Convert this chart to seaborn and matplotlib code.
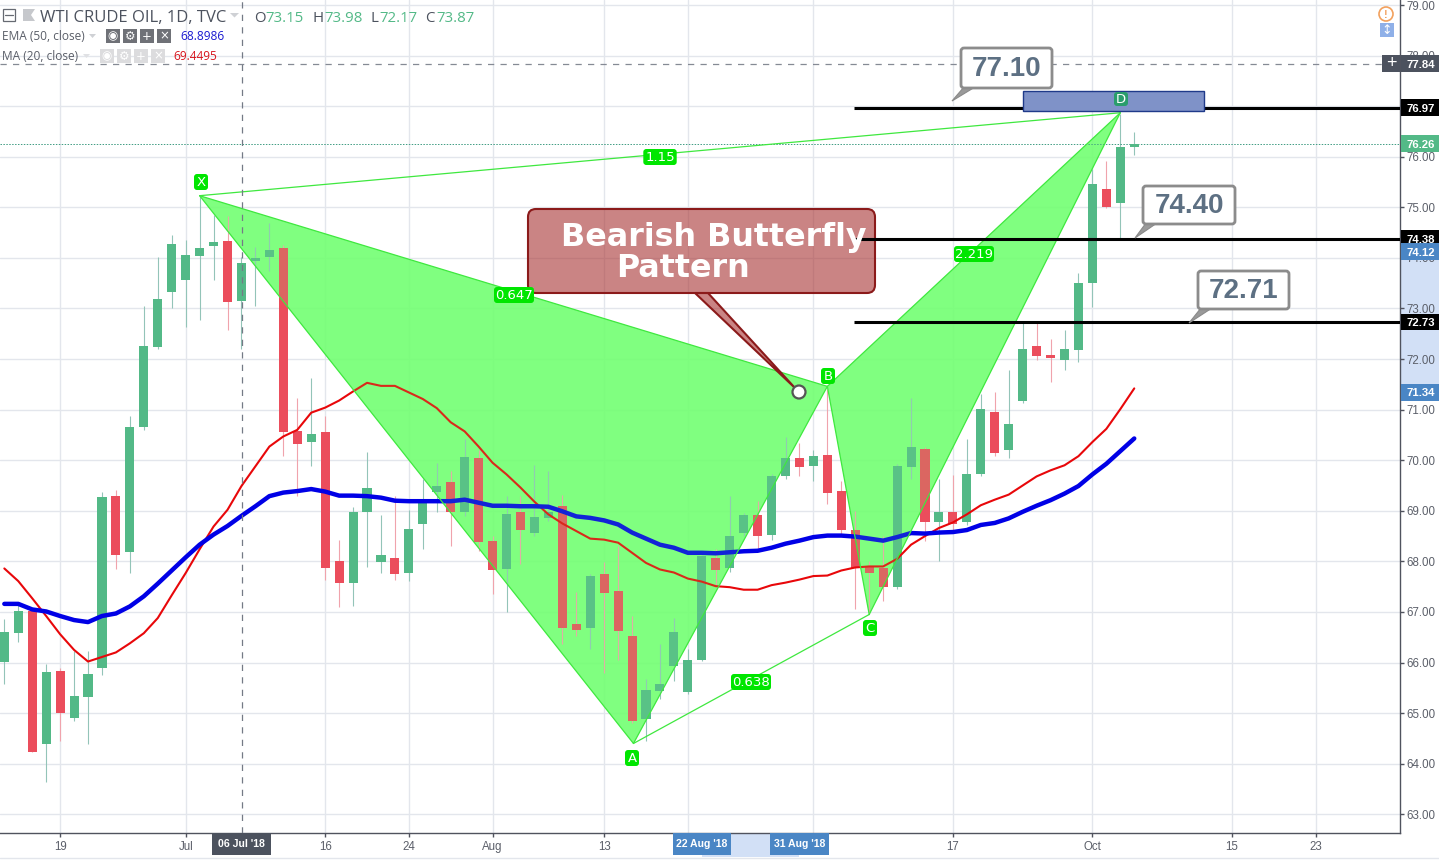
import matplotlib
matplotlib.use('Agg')
import matplotlib.pyplot as plt
from matplotlib.patches import FancyBboxPatch, Polygon, Circle, Rectangle
from matplotlib.transforms import Affine2D
from matplotlib.colors import to_rgba
import numpy as np
import seaborn as sns

# daily candles
opens = [66.01, 66.58, 67.01, 64.39, 65.84, 64.90, 65.32, 65.89, 69.30, 68.18, 70.65, 72.23, 73.32, 73.56, 74.03, 74.23, 74.34, 73.14, 73.93, 74.01,
         74.20, 70.57, 70.36, 70.55, 68.00, 67.57, 68.97, 67.98, 68.06, 67.77, 68.74, 69.37, 69.56, 68.97, 70.05, 68.41, 67.85, 68.97, 68.56, 68.86,
         69.09, 66.77, 66.69, 67.76, 67.41, 66.52, 64.88, 65.43, 65.93, 65.41, 66.06, 68.06, 67.86, 68.56, 68.91, 68.52, 69.68, 70.05, 69.88, 70.11,
         69.40, 68.63, 67.90, 67.87, 67.49, 69.86, 70.23, 68.77, 68.97, 68.77, 69.72, 70.96, 70.20, 71.17, 72.25, 72.09, 71.98, 72.17, 73.50, 75.37,
         75.08, 76.19]
highs = [66.87, 67.15, 67.05, 65.98, 65.90, 66.23, 66.22, 69.37, 69.42, 70.88, 73.04, 74.01, 74.46, 74.35, 75.22, 74.84, 74.82, 74.01, 74.22, 74.70,
         74.25, 71.24, 71.63, 70.87, 68.43, 69.07, 70.17, 68.91, 69.29, 69.02, 69.62, 69.95, 69.78, 70.41, 70.21, 68.50, 69.29, 69.30, 69.91, 69.78,
         69.32, 67.39, 67.75, 67.98, 68.30, 66.92, 65.67, 66.36, 66.89, 66.26, 68.15, 68.25, 69.29, 68.95, 69.19, 69.72, 70.45, 70.35, 70.21, 71.40,
         69.59, 68.99, 68.00, 68.50, 69.92, 71.24, 70.26, 69.62, 69.70, 70.41, 71.30, 71.34, 71.79, 72.72, 72.75, 72.39, 72.58, 73.71, 75.75, 75.91,
         76.85, 76.48]
lows = [65.57, 66.40, 64.23, 63.64, 64.44, 64.84, 64.39, 65.76, 67.84, 67.78, 70.60, 72.20, 73.00, 72.63, 72.78, 73.56, 72.58, 72.19, 73.04, 73.74,
        70.08, 69.29, 69.88, 67.64, 67.09, 67.11, 67.88, 67.78, 67.64, 67.61, 68.24, 68.97, 68.30, 68.90, 68.20, 67.35, 66.99, 67.94, 68.50, 68.80,
        66.36, 66.52, 66.26, 65.80, 66.06, 64.80, 64.44, 65.27, 65.63, 65.37, 66.03, 67.54, 67.80, 68.50, 68.27, 68.43, 69.62, 69.68, 69.59, 69.13,
        68.55, 67.05, 66.95, 67.21, 67.45, 69.62, 68.40, 68.00, 68.60, 68.72, 69.68, 70.08, 70.05, 71.14, 71.99, 71.54, 71.78, 71.94, 73.02, 74.98,
        74.38, 76.04]
closes = [66.60, 67.01, 64.23, 65.82, 65.01, 65.33, 65.78, 69.28, 68.12, 70.65, 72.25, 73.19, 74.28, 74.05, 74.20, 74.32, 73.12, 73.89, 73.99, 74.16,
          70.55, 70.32, 70.51, 67.87, 67.57, 68.97, 69.46, 68.12, 67.75, 68.65, 69.24, 69.50, 68.97, 70.07, 68.38, 67.83, 68.93, 68.62, 68.87, 68.97,
          66.68, 66.65, 67.72, 67.37, 66.62, 64.84, 65.45, 65.57, 66.61, 66.06, 68.10, 67.82, 68.51, 68.91, 68.50, 69.68, 70.05, 69.86, 70.09, 69.35,
          68.62, 67.87, 67.77, 67.49, 69.89, 70.27, 68.77, 68.97, 68.74, 69.72, 71.02, 70.14, 70.71, 72.20, 72.06, 72.02, 72.19, 73.51, 75.47, 75.00,
          76.20, 76.26]

ema50 = [67.16, 67.16, 67.05, 67.01, 66.92, 66.84, 66.80, 66.92, 66.97, 67.11, 67.31, 67.56, 67.82, 68.08, 68.33, 68.53, 68.70, 68.90, 69.09, 69.29,
         69.36, 69.39, 69.43, 69.38, 69.30, 69.30, 69.29, 69.26, 69.20, 69.19, 69.19, 69.19, 69.19, 69.22, 69.16, 69.10, 69.10, 69.09, 69.09, 69.08,
         68.99, 68.89, 68.86, 68.81, 68.73, 68.57, 68.45, 68.33, 68.27, 68.17, 68.17, 68.16, 68.18, 68.20, 68.21, 68.27, 68.35, 68.41, 68.48, 68.51,
         68.51, 68.49, 68.45, 68.41, 68.48, 68.56, 68.55, 68.57, 68.58, 68.62, 68.72, 68.76, 68.85, 68.98, 69.10, 69.21, 69.34, 69.49, 69.72, 69.93,
         70.18, 70.43]
ma20 = [67.86, 67.61, 67.27, 66.92, 66.56, 66.25, 66.02, 66.11, 66.20, 66.38, 66.58, 66.88, 67.33, 67.77, 68.24, 68.69, 69.02, 69.49, 69.88, 70.27,
        70.47, 70.60, 70.94, 71.04, 71.18, 71.36, 71.53, 71.47, 71.47, 71.34, 71.21, 71.03, 70.75, 70.57, 70.27, 69.95, 69.72, 69.46, 69.18, 68.93,
        68.75, 68.60, 68.45, 68.43, 68.37, 68.17, 67.97, 67.84, 67.78, 67.66, 67.60, 67.51, 67.49, 67.44, 67.44, 67.53, 67.58, 67.64, 67.71, 67.72,
        67.82, 67.88, 67.90, 67.90, 68.05, 68.33, 68.50, 68.66, 68.77, 68.93, 69.11, 69.22, 69.32, 69.50, 69.68, 69.80, 69.90, 70.08, 70.36, 70.62,
        71.01, 71.42]

# butterfly pattern points X A B C D
pattern_names = ['X', 'A', 'B', 'C', 'D']
pattern_x = [14, 45.1, 59, 62, 80]
pattern_y = [75.23, 64.40, 71.46, 66.95, 76.87]

tick_pos = [4, 13, 23, 29, 35, 43, 49, 58, 68, 78, 88, 94]
tick_labels = ['19', 'Jul', '16', '24', 'Aug', '13', '', '', '17', 'Oct', '15', '23']
price_ticks = list(range(63, 80))

level_prices = [76.97, 74.38, 72.73]
level_start = 60.9
crosshair_x = 17.05
crosshair_y = 77.84
last_price = 76.26
range_prices = [71.34, 74.12]
range_dates = [50, 57]
zone_x = [73, 86]
zone_y = [76.91, 77.29]

tag_prices = [77.84, 76.97, 76.26, 74.38, 74.12, 72.73, 71.34]
tag_colors = ['#4c525e', '#000000', '#53b987', '#000000', '#4a86c5', '#000000', '#4a86c5']
date_tags = [(17, "06 Jul '18", '#4c525e'), (50, "22 Aug '18", '#4a86c5'), (57, "31 Aug '18", '#4a86c5')]

GREEN = '#53b987'
RED = '#eb4d5c'
W, H = 1439, 860

sns.set_theme(style='whitegrid', rc={'grid.color': '#e3e6ec', 'grid.linewidth': 1.0, 'axes.edgecolor': '#50535e'})
plt.rcParams['font.family'] = ['Liberation Sans', 'DejaVu Sans']

fig = plt.figure(figsize=(W / 100, H / 100), dpi=100)
ax = fig.add_axes([0, 1 - 833 / H, 1400 / W, 833 / H])
ax.set_xlim(-0.31, 100.05)
ax.set_ylim(62.63, 79.099)
ax.set_axisbelow(True)

# pixel space for the chart furniture, y going down like the screenshot
px = Affine2D().scale(1, -1).translate(0, H)

x = np.arange(len(opens))
colors = [GREEN if c >= o else RED for o, c in zip(opens, closes)]
wick_colors = ['#93c4b8' if c >= o else '#f0a3ac' for o, c in zip(opens, closes)]

# green triangles, the grid just shows through
ax.fill([pattern_x[0], pattern_x[1], pattern_x[2]], [pattern_y[0], pattern_y[1], pattern_y[2]], color='#72ff72', alpha=0.9, lw=0, zorder=1)
ax.fill([pattern_x[2], pattern_x[3], pattern_x[4]], [pattern_y[2], pattern_y[3], pattern_y[4]], color='#72ff72', alpha=0.9, lw=0, zorder=1)

ax.vlines(x, lows, highs, colors=wick_colors, lw=0.8, zorder=2)
ax.bar(x, np.abs(np.array(closes) - np.array(opens)), bottom=np.minimum(opens, closes), width=0.65, color=colors, lw=0, zorder=3)

sns.lineplot(x=x, y=ma20, ax=ax, color='#e8070a', lw=1.5, zorder=4)
sns.lineplot(x=x, y=ema50, ax=ax, color='#0000e6', lw=3.2, zorder=4)

# slight tint on top of what sits inside the pattern
ax.fill([pattern_x[0], pattern_x[1], pattern_x[2]], [pattern_y[0], pattern_y[1], pattern_y[2]], color='#80ff80', alpha=0.14, lw=0, zorder=5)
ax.fill([pattern_x[2], pattern_x[3], pattern_x[4]], [pattern_y[2], pattern_y[3], pattern_y[4]], color='#80ff80', alpha=0.14, lw=0, zorder=5)

# pattern legs
for a, b in [(0, 1), (1, 2), (0, 2), (2, 3), (3, 4), (2, 4), (0, 4), (1, 3)]:
    ax.plot([pattern_x[a], pattern_x[b]], [pattern_y[a], pattern_y[b]], color='#3fe83f', lw=0.9, zorder=5)

# crosshair and last price
ax.axvline(crosshair_x, color='#747a86', lw=0.9, ls=(0, (5, 5)), zorder=6)
ax.axhline(crosshair_y, color='#858a94', lw=0.9, ls=(0, (5, 5)), zorder=6)
ax.axhline(last_price, color='#3f9c82', lw=0.7, ls=(0, (1.5, 1.5)), zorder=2)

# bearish callout, under the level lines
fill = to_rgba('#a83232', 0.6)
ax.add_patch(Polygon([(695, 293), (708, 293), (795, 388)], closed=True, fc=fill, ec='#8b1a1a', lw=1.5, transform=px, zorder=6))
ax.add_patch(FancyBboxPatch((528, 209), 347, 84, boxstyle='round,pad=0,rounding_size=8', fc=fill, ec='#8b1a1a', lw=1.5, transform=px, zorder=6))
ax.add_patch(Circle((799, 392), 6.5, fc='white', ec='#555555', lw=1.6, transform=px, zorder=9))

for p in level_prices:
    ax.plot([level_start, 100.05], [p, p], color='black', lw=2.2, solid_capstyle='butt', zorder=7)

ax.text(561, 246, 'Bearish Butterfly', transform=px, family='DejaVu Sans', weight='bold', fontsize=22.9, color='white', zorder=10)
ax.text(616, 277, 'Pattern', transform=px, family='DejaVu Sans', weight='bold', fontsize=22.9, color='white', zorder=10)

# potential reversal zone
ax.add_patch(Rectangle((zone_x[0], zone_y[0]), zone_x[1] - zone_x[0], zone_y[1] - zone_y[0], fc='#7f92c8', ec='#1f3a8a', lw=1, zorder=8))


def tag(cx, cy, s, color='#00e600', fs=9.5, w=None, h=16, tc='white'):
    w = w or (7 + len(s) * 6.6)
    ax.add_patch(FancyBboxPatch((cx - w / 2, cy - h / 2), w, h, boxstyle='round,pad=0,rounding_size=3', fc=color, ec='none', transform=px, zorder=9, clip_on=False))
    ax.text(cx, cy + 0.5, s, transform=px, ha='center', va='center', fontsize=fs, color=tc, family='DejaVu Sans', zorder=10)


tag(201, 182, 'X', w=14)
tag(632, 758, 'A', w=14)
tag(828, 376, 'B', w=14)
tag(870, 628, 'C', w=14)
tag(1121, 99, 'D', color='#2a9d6c', w=14, h=14)
tag(660, 157, '1.15')
tag(514, 295, '0.647')
tag(751, 682, '0.638')
tag(974, 254, '2.219')


def note(x0, y0, w, h, s, tail):
    ax.add_patch(Polygon([(x0 + 3, y0 + h - 1), (x0 + 14, y0 + h - 1), tail], closed=True, fc='#9a9a9a', ec='#8a8a8a', lw=0.8, transform=px, zorder=9))
    ax.add_patch(FancyBboxPatch((x0, y0), w, h, boxstyle='round,pad=0,rounding_size=3', fc='white', ec='#8c8c8c', lw=2, transform=px, zorder=9))
    ax.text(x0 + w / 2, y0 + h / 2 + 1, s, transform=px, ha='center', va='center', weight='bold', fontsize=20, color='#5d7083', zorder=10)


note(961, 48, 91, 40, '77.10', (952, 101))
note(1143, 186, 92, 38, '74.40', (1135, 238))
note(1198, 271, 91, 38, '72.71', (1189, 323))

# axes, the 77 label sits fully behind the 76.97 tag so it stays blank
ax.set_xticks(tick_pos, tick_labels)
ax.set_yticks(price_ticks, ['' if p == 77 else f'{p:.2f}' for p in price_ticks])
ax.yaxis.tick_right()
ax.tick_params(axis='y', length=3, width=1, color='#50535e', labelcolor='#5b5f69', labelsize=8.3, pad=1.5, right=True)
ax.tick_params(axis='x', length=3, width=1, color='#50535e', labelcolor='#5b5f69', labelsize=8.3, pad=3, bottom=True)
for side in ['top', 'left']:
    ax.spines[side].set_visible(False)
for side in ['right', 'bottom']:
    ax.spines[side].set_visible(True)
    ax.spines[side].set_color('#50535e')
    ax.spines[side].set_linewidth(1)

# selected ranges on both axes
ytrans = ax.get_yaxis_transform()
xtrans = ax.get_xaxis_transform()
ax.add_patch(Rectangle((1.0007, range_prices[0]), 39 / 1400, range_prices[1] - range_prices[0], transform=ytrans, fc='#d2e0f6', ec='none', clip_on=False, zorder=0))
ax.add_patch(Rectangle((range_dates[0], -24 / 833), range_dates[1] - range_dates[0], 24 / 833, transform=xtrans, fc='#d2e0f6', ec='none', clip_on=False, zorder=0))

# price tags
for p, c in zip(tag_prices, tag_colors):
    ax.add_patch(Rectangle((1.0007, p - 0.165), 39 / 1400, 0.33, transform=ytrans, fc=c, ec='none', clip_on=False, zorder=11))
    ax.text(1.005, p, f'{p:.2f}', transform=ytrans, va='center_baseline', fontsize=8.2, weight='bold', color='white', clip_on=False, zorder=12)

# date tags
for d, s, c in date_tags:
    ax.add_patch(Rectangle((d - 2.1, -22 / 833), 4.2, 22 / 833, transform=xtrans, fc=c, ec='none', clip_on=False, zorder=11))
    ax.text(d, -11 / 833, s, transform=xtrans, ha='center', va='center', fontsize=7.6, weight='bold', color='white', clip_on=False, zorder=12)

# bottom rule
fig.add_artist(plt.Line2D([0, W], [858, 858], transform=px, color='#e3e6ec', lw=1))

# legend block, top left
ax.add_patch(Rectangle((2.5, 9), 12, 11.5, fc='white', ec='#666a72', lw=0.9, transform=px, zorder=12))
ax.plot([4.5, 12.5], [15, 15], color='#666a72', lw=0.9, transform=px, zorder=13)
ax.add_patch(Polygon([(23, 9), (35, 9), (31, 15), (35, 21), (23, 21)], closed=True, fc='#c6c8cc', ec='none', transform=px, zorder=12))
ax.text(40, 21.5, 'WTI CRUDE OIL, 1D, TVC', transform=px, fontsize=12, family='Open Sans', color='#4c525e', zorder=13)
ax.add_patch(Polygon([(230, 13), (239, 13), (234.5, 17.5)], closed=True, fc='#cfd1d5', ec='none', transform=px, zorder=12))
for lx, name, vx, val in [(254, 'O', 265, '73.15'), (312, 'H', 324, '73.98'), (370, 'L', 379, '72.17'), (425, 'C', 436, '73.87')]:
    ax.text(lx, 21.5, name, transform=px, fontsize=10.8, family='Open Sans', color='#4c525e', zorder=13)
    ax.text(vx, 21.5, val, transform=px, fontsize=10.8, family='Open Sans', color=GREEN, zorder=13)

ax.text(2, 40, 'EMA (50, close)', transform=px, fontsize=8.6, family='Open Sans', color='#5a5e68', zorder=13)
ax.add_patch(Polygon([(89, 34), (96, 34), (92.5, 38)], closed=True, fc='#cfd1d5', ec='none', transform=px, zorder=12))
ax.text(2, 60, 'MA (20, close)', transform=px, fontsize=8.6, family='Open Sans', color='#5a5e68', zorder=13)
ax.add_patch(Polygon([(83, 54), (90, 54), (86.5, 58)], closed=True, fc='#e0e1e4', ec='none', transform=px, zorder=12))
for row_y, row_x, col in [(29, 106, '#6f7177'), (49, 100, '#dcdcde')]:
    for k, glyph in enumerate(['◉', '⚙', '+', '×']):
        ax.add_patch(Rectangle((row_x + k * 17, row_y), 14, 14, fc=col, ec='none', transform=px, zorder=12))
        ax.text(row_x + k * 17 + 7, row_y + 7, glyph, transform=px, ha='center', va='center', fontsize=8.5, family='DejaVu Sans', color='white', zorder=13)
ax.text(180, 40, '68.8986', transform=px, fontsize=8.6, family='Open Sans', color='#1a1ad0', zorder=13)
ax.text(173, 60, '69.4495', transform=px, fontsize=8.6, family='Open Sans', color='#d8141c', zorder=13)

# icons top right
ax.add_patch(Circle((1386, 14), 7, fc='white', ec='#f2a15e', lw=1.2, transform=px, zorder=12))
ax.text(1386, 14.5, '!', transform=px, ha='center', va='center', fontsize=8, weight='bold', color='#f2a15e', zorder=13)
ax.add_patch(Rectangle((1380, 23), 14, 14, fc='#8fb0e8', ec='none', transform=px, zorder=12))
ax.text(1387, 30, '↕', transform=px, ha='center', va='center', fontsize=9, family='DejaVu Sans', color='white', zorder=13)
ax.add_patch(Rectangle((1382, 55), 18, 17, fc='#4c525e', ec='none', transform=px, zorder=12))
ax.text(1391, 63, '+', transform=px, ha='center', va='center', fontsize=13, color='white', zorder=13)

fig.savefig('out.png', dpi=100)
